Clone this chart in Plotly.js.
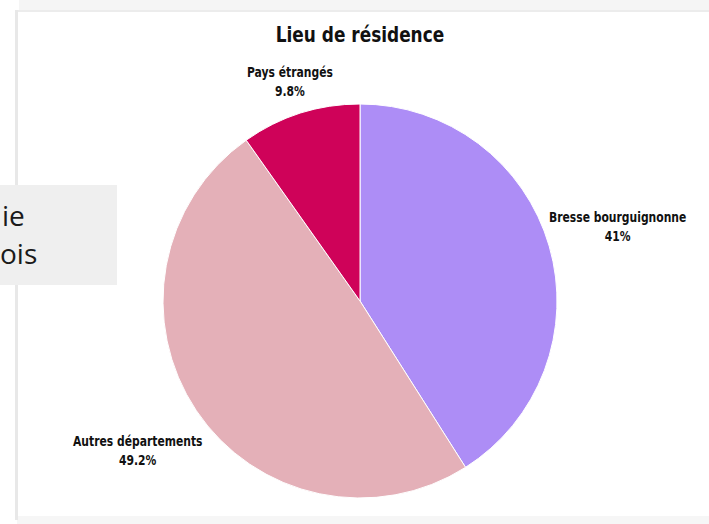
<!DOCTYPE html>
<html>
<head>
<meta charset="utf-8">
<script src="https://cdn.plot.ly/plotly-3.0.1.min.js"></script>
<style>
html,body{margin:0;padding:0;background:#fff;}
#chart{width:709px;height:524px;}
text.gtitle, text.annotation-text[style*="DejaVu"]{
  transform: scaleX(0.77) !important;
  transform-box: fill-box;
  transform-origin: center;
}
</style>
</head>
<body>
<div id="chart"></div>
<script>
// ---- data ----
const chartTitle = "Lieu de résidence";
const categories = ["Bresse bourguignonne", "Autres départements", "Pays étrangés"];
const shares = [41, 49.2, 9.8];
const sliceColors = ["#ad8df6", "#e4b0b8", "#cf0259"];
const sideTextLines = ["ie", "ois"];

// ---- layout helpers (pixel geometry of the figure) ----
const W = 709, H = 524;
const cx = 360, cy = 301, R = 197;
const px = x => x / W;
const py = y => 1 - y / H;
const condFamily = "DejaVu Sans, sans-serif";
const labelFont = {family: condFamily, size: 14, color: "#111", weight: 700};

// label positions derived from slice mid-angles (clockwise from 12 o'clock)
const total = shares.reduce((a, b) => a + b, 0);
let cum = 0;
const labelAnns = categories.map((c, i) => {
  const mid = (cum + shares[i] / 2) / total * 2 * Math.PI;
  cum += shares[i];
  const dx = Math.sin(mid), dy = Math.cos(mid);
  let d = 1.36 * R;
  const minY = 82;
  if (cy - dy * d < minY) d = (cy - minY) / dy;
  return {
    x: px(cx + dx * d), y: py(cy - dy * d), xref: "paper", yref: "paper",
    xanchor: "center", yanchor: "middle", showarrow: false, align: "center",
    text: "<b>" + c + "</b><br><b>" + shares[i] + "%</b>", font: labelFont
  };
});

const sideAnns = sideTextLines.map((t, i) => ({
  x: 0, y: py(215 + i * 38), xref: "paper", yref: "paper", xanchor: "left", yanchor: "middle",
  xshift: i === 0 ? 0 : -2,
  showarrow: false, text: t, font: {family: "Open Sans, Lato, sans-serif", size: 28, color: "#1a1a1a", weight: 500}
}));

const trace = {
  type: "pie",
  labels: categories,
  values: shares,
  sort: false,
  direction: "clockwise",
  rotation: 0,
  textinfo: "none",
  hoverinfo: "label+percent",
  marker: {colors: sliceColors, line: {color: "#ffffff", width: 1}},
  domain: {x: [px(cx - R), px(cx + R)], y: [py(cy + R), py(cy - R)]},
  showlegend: false
};

const layout = {
  width: W, height: H,
  margin: {l: 0, r: 0, t: 0, b: 0},
  paper_bgcolor: "#ffffff",
  title: {
    text: "<b>" + chartTitle + "</b>", x: px(360), xanchor: "center", y: py(34), yanchor: "middle",
    xref: "paper", yref: "paper",
    font: {family: condFamily, size: 22, color: "#111", weight: 700}
  },
  shapes: [
    {type: "rect", xref: "paper", yref: "paper", x0: px(19), x1: 1, y0: py(0), y1: py(10), fillcolor: "#f5f5f5", line: {width: 0}, layer: "below"},
    {type: "rect", xref: "paper", yref: "paper", x0: px(17), x1: 1, y0: py(516), y1: py(524), fillcolor: "#f6f6f6", line: {width: 0}, layer: "below"},
    {type: "line", xref: "paper", yref: "paper", x0: px(16.5), x1: px(16.5), y0: py(10), y1: py(520), line: {color: "#e8e8e8", width: 3}, layer: "below"},
    {type: "line", xref: "paper", yref: "paper", x0: px(18), x1: 1, y0: py(11), y1: py(11), line: {color: "#ececec", width: 2}, layer: "below"},
    {type: "rect", xref: "paper", yref: "paper", x0: 0, x1: px(117), y0: py(285), y1: py(185), fillcolor: "#efefef", line: {width: 0}, layer: "below"}
  ],
  annotations: labelAnns.concat(sideAnns)
};

Plotly.newPlot("chart", [trace], layout, {displayModeBar: false, staticPlot: true});
</script>
</body>
</html>
